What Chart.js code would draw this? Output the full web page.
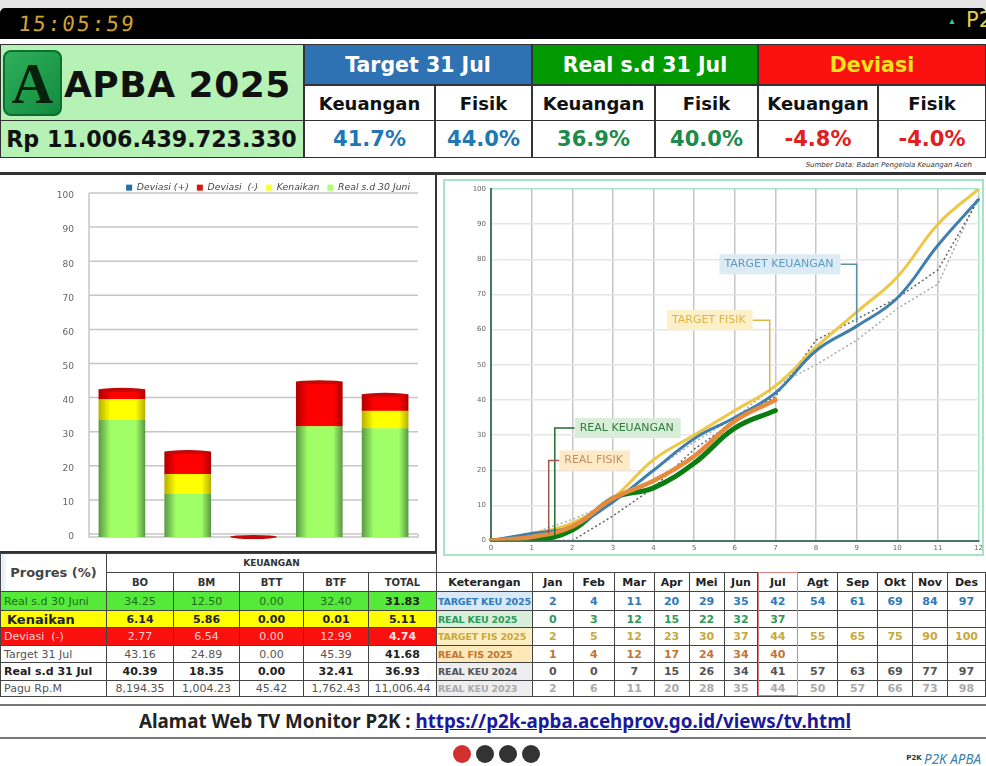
<!DOCTYPE html>
<html>
<head>
<meta charset="utf-8">
<title>Monitor P2K APBA 2025</title>
<script src="https://cdn.jsdelivr.net/npm/chart.js@4"></script>
<style>
    html, body { margin: 0; padding: 0; background: #fff; width: 986px; height: 766px; overflow: hidden; font-family: "DejaVu Sans", sans-serif; }
    .box { position: absolute; box-sizing: border-box; display: flex; align-items: center; justify-content: center; white-space: nowrap; }
    .hline { position: absolute; left: 0; width: 986px; background: #333; }
    table { position: absolute; border-collapse: collapse; table-layout: fixed; color: #333; }
    td { border: 1.5px solid #444; padding: 0; text-align: center; overflow: hidden; white-space: nowrap; font-size: 11px; }
    td.name { text-align: left; padding-left: 3px; }
    canvas { position: absolute; }
</style>
</head>
<body>
<div style="position:absolute;left:0;top:0;width:986px;height:9px;background:#e4e4e4"></div>
<div style="position:absolute;left:0;top:8px;width:986px;height:31px;background:#000;border-radius:5px 5px 0 0"></div>
<div class="box" style="left:19px;top:13px;width:116px;height:22px;color:#d0a22e;font:21px 'DejaVu Sans Mono',monospace;letter-spacing:2px;transform:skewX(-6deg)">15:05:59</div>
<div class="box" style="left:945px;top:13px;width:14px;height:14px;color:#3c9;font-size:10px;font-weight:bold">▴</div>
<div class="box" style="left:966px;top:8px;width:30px;height:24px;color:#e0d040;font-size:21px;justify-content:flex-start">P2</div>

<div id="header"></div>
<div class="box" style="left:600px;top:159px;width:372px;height:12px;justify-content:flex-end;font:italic 7px 'DejaVu Sans';color:#333">Sumber Data: Badan Pengelola Keuangan Aceh</div>

<div class="hline" style="top:172px;height:3px"></div>
<div style="position:absolute;left:435px;top:175px;width:2px;height:378px;background:#333"></div>
<div class="hline" style="top:551px;height:2px;width:436px"></div>

<canvas id="barChart" style="left:0;top:175px"></canvas>
<div style="position:absolute;left:443px;top:179px;width:541px;height:377px;border:2px solid #a6e4c6;box-sizing:border-box"></div>
<canvas id="lineChart" style="left:441px;top:178px"></canvas>

<table id="leftTable" style="left:0;top:553px"></table>
<table id="rightTable" style="left:436px;top:572px"></table>
<div style="position:absolute;left:758px;top:572px;width:40px;height:124px;border:1.5px solid #e08080;box-sizing:border-box"></div>

<div class="hline" style="top:704px;height:2px;background:#777"></div>
<div class="hline" style="top:737px;height:2px;background:#777"></div>
<div class="box" style="left:139px;top:708px;height:26px;font:bold 18.8px 'Noto Sans',sans-serif;color:#222">Alamat Web TV Monitor P2K :&nbsp;<span style="color:#1a1a9c;text-decoration:underline">https://p2k-apba.acehprov.go.id/views/tv.html</span></div>
<div style="position:absolute;left:453px;top:745px;width:18px;height:18px;border-radius:9px;background:#d32f2f"></div>
<div style="position:absolute;left:476px;top:745px;width:18px;height:18px;border-radius:9px;background:#333"></div>
<div style="position:absolute;left:499px;top:745px;width:18px;height:18px;border-radius:9px;background:#333"></div>
<div style="position:absolute;left:522px;top:745px;width:18px;height:18px;border-radius:9px;background:#333"></div>
<div class="box" style="left:906px;top:751px;width:16px;height:14px;font:bold 7px 'DejaVu Sans';color:#333">P2K</div>
<div class="box" style="left:924px;top:751px;height:16px;font:italic 13.5px 'Noto Sans',sans-serif;color:#3b83a8">P2K APBA</div>

<script>
// bar chart (Progres Keuangan)
var barCategories = ['BO', 'BM', 'BTT', 'BTF', 'TOTAL'];
var realJuni = [34.25, 12.50, 0.00, 32.40, 31.83];
var kenaikan = [6.14, 5.86, 0.00, 0.01, 5.11];
var deviasiMin = [2.77, 6.54, 0.00, 12.99, 4.74];
var deviasiPlus = [0, 0, 0, 0, 0];
var target31Jul = ['43.16', '24.89', '0.00', '45.39', '41.68'];
var real31Jul = ['40.39', '18.35', '0.00', '32.41', '36.93'];
var paguRpM = ['8,194.35', '1,004.23', '45.42', '1,762.43', '11,006.44'];

// line chart (monthly cumulative)
var monthNames = ['Jan', 'Feb', 'Mar', 'Apr', 'Mei', 'Jun', 'Jul', 'Agt', 'Sep', 'Okt', 'Nov', 'Des'];
var monthTicks = ['0', '1', '2', '3', '4', '5', '6', '7', '8', '9', '10', '11', '12'];
var targetKeu2025 = [2, 4, 11, 20, 29, 35, 42, 54, 61, 69, 84, 97];
var realKeu2025 = [0, 3, 12, 15, 22, 32, 37];
var targetFis2025 = [2, 5, 12, 23, 30, 37, 44, 55, 65, 75, 90, 100];
var realFis2025 = [1, 4, 12, 17, 24, 34, 40];
var realKeu2024 = [0, 0, 7, 15, 26, 34, 41, 57, 63, 69, 77, 97];
var realKeu2023 = [2, 6, 11, 20, 28, 35, 44, 50, 57, 66, 73, 98];

var FONT = '"DejaVu Sans", sans-serif';

// header panel
function addBox(left, top, width, height, text, style) {
    var el = document.createElement('div');
    el.className = 'box';
    el.style.cssText = 'left:' + left + 'px;top:' + top + 'px;width:' + width + 'px;height:' + height + 'px;' + style;
    el.textContent = text;
    document.getElementById('header').appendChild(el);
}

function buildHeader() {
    var line = 'border:1px solid #333;';
    addBox(0, 44, 304, 114, '', 'background:#b6f2b6;' + line);
    addBox(3, 50, 59, 66, 'A', 'background:linear-gradient(135deg,#2fb05c,#128a3e);border:2px solid #0c6f30;border-radius:8px;font:bold 58px "Liberation Serif",serif;color:#04220c');
    addBox(64, 62, 230, 44, 'APBA 2025', 'font:bold 36px ' + FONT + ';color:#111;letter-spacing:0.5px;justify-content:flex-start');
    addBox(0, 120, 304, 38, 'Rp 11.006.439.723.330', 'font:bold 22.2px ' + FONT + ';color:#111;border-top:1.5px solid #333;border-bottom:1.5px solid #333;border-right:1px solid #333');

    var big = 'font:bold 20.5px ' + FONT + ';' + line;
    addBox(304, 44, 228, 41, 'Target 31 Jul', big + 'background:#2f72b4;color:#fff');
    addBox(532, 44, 226, 41, 'Real s.d 31 Jul', big + 'background:#009900;color:#fff');
    addBox(758, 44, 228, 41, 'Deviasi', big + 'background:#fb1010;color:#f4e21a');

    var cols = [304, 435, 532, 655, 758, 878, 986];
    var heads = ['Keuangan', 'Fisik', 'Keuangan', 'Fisik', 'Keuangan', 'Fisik'];
    var vals = ['41.7%', '44.0%', '36.9%', '40.0%', '-4.8%', '-4.0%'];
    var colors = ['#1f78b4', '#1f78b4', '#1e8a4a', '#1e8a4a', '#e02020', '#e02020'];
    for (var i = 0; i < 6; i++) {
        addBox(cols[i], 85, cols[i + 1] - cols[i], 36, heads[i], 'font:bold 18px ' + FONT + ';color:#111;background:#fff;' + line);
        addBox(cols[i], 120, cols[i + 1] - cols[i], 38, vals[i], 'font:bold 21px ' + FONT + ';background:#fff;border:1px solid #333;border-bottom:1.5px solid #333;color:' + colors[i]);
    }
}

// tables
function colgroup(widths) {
    var html = '<colgroup>';
    for (var i = 0; i < widths.length; i++) {
        html += '<col style="width:' + widths[i] + 'px">';
    }
    return html + '</colgroup>';
}

function fixed(list) {
    var out = [];
    for (var i = 0; i < list.length; i++) {
        out.push(list[i].toFixed(2));
    }
    return out;
}

function leftRow(name, values, height, style, nameStyle, totalStyle) {
    var html = '<tr style="height:' + height + 'px;' + style + '">';
    html += '<td class="name" style="' + (nameStyle || '') + '">' + name + '</td>';
    for (var i = 0; i < values.length; i++) {
        var extra = (i === values.length - 1 && totalStyle) ? totalStyle : '';
        html += '<td style="' + extra + '">' + values[i] + '</td>';
    }
    return html + '</tr>';
}

function buildLeftTable() {
    var html = colgroup([106, 67, 66, 64, 65, 68]);
    var bold = 'font-weight:bold;color:#222';
    html += '<tr style="height:19px"><td rowspan="2" style="font-weight:bold;font-size:13px;color:#444;background:linear-gradient(90deg,#dde8f4 0,#fff 6px)">Progres (%)</td>';
    html += '<td colspan="5" style="font-weight:bold;font-size:9px">KEUANGAN</td></tr>';
    html += '<tr style="height:19px">';
    for (var i = 0; i < barCategories.length; i++) {
        html += '<td style="font-weight:bold;font-size:10px">' + barCategories[i] + '</td>';
    }
    html += '</tr>';
    html += leftRow('Real s.d 30 Juni', fixed(realJuni), 19, 'background:#55ea3a;color:#1e6a1e', '', bold);
    html += leftRow('Kenaikan', fixed(kenaikan), 17, 'background:#ffff00;color:#222;font-weight:bold', 'font-weight:bold;font-size:13px;padding-left:6px');
    html += leftRow('Deviasi &nbsp;(-)', fixed(deviasiMin), 18, 'background:#fb1010;color:#ffd0d0', '', 'font-weight:bold;color:#ffe4e4');
    html += leftRow('Target 31 Jul', target31Jul, 17, 'color:#555', '', bold);
    html += leftRow('Real s.d 31 Jul', real31Jul, 18, 'color:#222;font-weight:bold', 'font-weight:bold');
    html += leftRow('Pagu Rp.M', paguRpM, 16, 'color:#555');
    document.getElementById('leftTable').innerHTML = html;
}

function rightRow(name, values, height, color, bg) {
    var html = '<tr style="height:' + height + 'px">';
    html += '<td class="name" style="padding-left:1px;font-weight:bold;font-size:9.5px;letter-spacing:-0.2px;color:' + color + ';background:' + bg + '">' + name + '</td>';
    for (var i = 0; i < 12; i++) {
        var v = i < values.length ? values[i] : '';
        html += '<td style="font-weight:bold;font-size:11px;color:' + color + '">' + v + '</td>';
    }
    return html + '</tr>';
}

function buildRightTable() {
    var html = colgroup([96, 41, 41, 40, 35, 35, 34, 40, 40, 40, 35, 35, 38]);
    html += '<tr style="height:19px"><td style="font-weight:bold;color:#222">Keterangan</td>';
    for (var i = 0; i < monthNames.length; i++) {
        html += '<td style="font-weight:bold;color:#222">' + monthNames[i] + '</td>';
    }
    html += '</tr>';
    html += rightRow('TARGET KEU 2025', targetKeu2025, 19, '#2f7ab8', '#d8e8f6');
    html += rightRow('REAL KEU 2025', realKeu2025, 17, '#2e9a56', '#d8eeda');
    html += rightRow('TARGET FIS 2025', targetFis2025, 18, '#c8a83c', '#fcefc4');
    html += rightRow('REAL FIS 2025', realFis2025, 17, '#c47434', '#fde8b8');
    html += rightRow('REAL KEU 2024', realKeu2024, 18, '#555', '#eeeeee');
    html += rightRow('REAL KEU 2023', realKeu2023, 16, '#aaa', '#eeeeee');
    document.getElementById('rightTable').innerHTML = html;
}

// cylinder shading across each bar
function cylinder(dark, light) {
    return function(ctx) {
        var chart = ctx.chart;
        if (!chart.chartArea || ctx.type !== 'data') {
            return light;
        }
        var x = chart.scales.x.getPixelForValue(ctx.dataIndex);
        var grad = chart.ctx.createLinearGradient(x - 23, 0, x + 23, 0);
        grad.addColorStop(0, dark);
        grad.addColorStop(0.25, light);
        grad.addColorStop(0.8, light);
        grad.addColorStop(1, dark);
        return grad;
    };
}

// gridlines sit slightly above the bar base, like the 3D floor of the source chart
var barFloor = {
    id: 'barFloor',
    beforeInit: function(chart) {
        // keep the legend from pushing the plot down
        var fit = chart.legend.fit;
        chart.legend.fit = function() {
            fit.call(this);
            this.height = 21;
        };
    },
    beforeDatasetsDraw: function(chart) {
        var c = chart.ctx, y = chart.scales.y, area = chart.chartArea;
        c.save();
        c.strokeStyle = '#c6c6c6';
        c.lineWidth = 1.5;
        for (var v = 0; v <= 100; v += 10) {
            var py = y.getPixelForValue(v) - 3;
            c.beginPath();
            c.moveTo(area.left, py);
            c.lineTo(area.right, py);
            c.stroke();
        }
        c.beginPath();
        c.moveTo(area.left, y.getPixelForValue(100) - 3);
        c.lineTo(area.left, area.bottom);
        c.lineTo(area.right, area.bottom);
        c.lineTo(area.right, y.getPixelForValue(0) - 3);
        c.stroke();
        c.restore();
    },
    afterDatasetsDraw: function(chart) {
        var c = chart.ctx;
        var meta = chart.getDatasetMeta(2);
        c.save();
        for (var i = 0; i < meta.data.length; i++) {
            c.fillStyle = '#c40808';
            c.beginPath();
            c.ellipse(meta.data[i].x, meta.data[i].y, 23, 2, 0, 0, Math.PI * 2);
            c.fill();
        }
        c.restore();
    }
};

var legendColors = ['#a8ff70', '#ffff30', '#e01010', '#1f6fb0'];

function barLegendLabels(chart) {
    var items = Chart.defaults.plugins.legend.labels.generateLabels(chart);
    for (var i = 0; i < items.length; i++) {
        items[i].fillStyle = legendColors[items[i].datasetIndex];
        items[i].strokeStyle = legendColors[items[i].datasetIndex];
    }
    return items;
}

function drawBarChart() {
    var canvas = document.getElementById('barChart');
    canvas.width = 436;
    canvas.height = 375;
    new Chart(canvas, {
        type: 'bar',
        data: {
            labels: barCategories,
            datasets: [
                { label: 'Real s.d 30 Juni', data: realJuni, backgroundColor: cylinder('#5a9a46', '#a0ff66') },
                { label: 'Kenaikan', data: kenaikan, backgroundColor: cylinder('#b8b000', '#ffff00') },
                { label: 'Deviasi  (-)', data: deviasiMin, backgroundColor: cylinder('#b00000', '#ff0000') },
                { label: 'Deviasi (+)', data: deviasiPlus, backgroundColor: cylinder('#14507f', '#1f6fb0') }
            ]
        },
        options: {
            responsive: false,
            animation: false,
            layout: { padding: { right: 18, bottom: 5 } },
            datasets: { bar: { barThickness: 46 } },
            scales: {
                x: {
                    stacked: true,
                    grid: { display: false },
                    border: { display: false },
                    ticks: { display: false }
                },
                y: {
                    stacked: true,
                    min: 0,
                    max: 100,
                    afterFit: function(scale) { scale.width = 89; },
                    grid: { display: false },
                    border: { display: false },
                    ticks: { stepSize: 10, padding: 7, color: '#666', font: { family: FONT, size: 9 } }
                }
            },
            plugins: {
                tooltip: { enabled: false },
                legend: {
                    position: 'top',
                    align: 'end',
                    reverse: true,
                    labels: {
                        boxWidth: 6,
                        boxHeight: 6,
                        padding: 8,
                        color: '#444',
                        font: { family: FONT, size: 9.3, style: 'italic' },
                        generateLabels: barLegendLabels
                    }
                }
            }
        },
        plugins: [barFloor]
    });
}

// callouts: positions in chart units (month, percent)
var calloutText = ['TARGET KEUANGAN', 'TARGET FISIK', 'REAL KEUANGAN', 'REAL FISIK'];
var calloutLineX = [9.0, 6.86, 1.57, 1.42];
var calloutEndY = [62, 42, 0.5, 2];
var calloutElbowY = [78.6, 62.7, 32, 22.8];
var calloutEdgeX = [8.6, 6.44, 2.06, 1.68];
var calloutSide = [-1, -1, 1, 1];
var calloutInk = ['#5d9dbd', '#d8b648', '#2f7d3f', '#c68c62'];
var calloutFill = ['#dcebf4', '#fdf0c8', '#d8eed8', '#fdebc8'];
var calloutLine = ['#5a8fa8', '#d8b648', '#1f6f2f', '#a0584a'];

var callouts = {
    id: 'callouts',
    afterDatasetsDraw: function(chart) {
        var c = chart.ctx, sx = chart.scales.x, sy = chart.scales.y;
        c.save();
        c.font = '11px ' + FONT;
        c.textBaseline = 'middle';
        for (var i = 0; i < calloutText.length; i++) {
            var lx = sx.getPixelForValue(calloutLineX[i]);
            var ex = sx.getPixelForValue(calloutEdgeX[i]);
            var ey = sy.getPixelForValue(calloutElbowY[i]);
            c.strokeStyle = calloutLine[i];
            c.lineWidth = 1.5;
            c.beginPath();
            c.moveTo(ex, ey);
            c.lineTo(lx, ey);
            c.lineTo(lx, sy.getPixelForValue(calloutEndY[i]));
            c.stroke();
            var w = c.measureText(calloutText[i]).width + 12;
            var bx = calloutSide[i] > 0 ? ex : ex - w;
            c.fillStyle = calloutFill[i];
            c.fillRect(bx, ey - 10, w, 20);
            c.fillStyle = calloutInk[i];
            c.fillText(calloutText[i], bx + 5, ey);
        }
        c.restore();
    }
};

function lineSet(label, values, color, width, extra) {
    var set = {
        label: label,
        data: [0].concat(values),
        borderColor: color,
        borderWidth: width,
        pointRadius: 0,
        tension: 0.4,
        borderCapStyle: 'round',
        fill: false
    };
    for (var k in extra) {
        set[k] = extra[k];
    }
    return set;
}

function drawLineChart() {
    var canvas = document.getElementById('lineChart');
    canvas.width = 545;
    canvas.height = 377;
    new Chart(canvas, {
        type: 'line',
        data: {
            labels: monthTicks,
            datasets: [
                lineSet('REAL FIS 2025', realFis2025, '#e68a3c', 4.5),
                lineSet('TARGET KEU 2025', targetKeu2025, '#3f7fae', 3),
                lineSet('TARGET FIS 2025', targetFis2025, '#edc845', 3),
                lineSet('REAL KEU 2025', realKeu2025, '#0a7d10', 5),
                lineSet('REAL KEU 2024', realKeu2024, '#666666', 1.5, { tension: 0, borderCapStyle: 'butt', borderDash: [2, 2.5] }),
                lineSet('REAL KEU 2023', realKeu2023, '#aaaaaa', 1.5, { tension: 0, borderCapStyle: 'butt', borderDash: [2, 2.5] })
            ]
        },
        options: {
            responsive: false,
            animation: false,
            layout: { padding: { top: 11, right: 0, bottom: 0 } },
            scales: {
                x: {
                    offset: false,
                    grid: {
                        color: function(ctx) { return ctx.index === 12 ? '#a6e4c6' : '#c6c6c6'; },
                        lineWidth: 1.5,
                        drawTicks: false
                    },
                    border: { color: '#4a7565', width: 2 },
                    ticks: { maxRotation: 0, padding: 3, autoSkip: false, color: '#666', font: { family: FONT, size: 7 } }
                },
                y: {
                    min: 0,
                    max: 100,
                    afterFit: function(scale) { scale.width = 50; },
                    grid: {
                        color: function(ctx) { return ctx.tick.value === 100 ? '#a6e4c6' : '#e6e6e6'; },
                        lineWidth: 1.5,
                        drawTicks: false
                    },
                    border: { color: '#4a7565', width: 2 },
                    ticks: { stepSize: 10, padding: 5, color: '#666', font: { family: FONT, size: 7 } }
                }
            },
            plugins: {
                legend: { display: false },
                tooltip: { enabled: false }
            }
        },
        plugins: [callouts]
    });
}

buildHeader();
buildLeftTable();
buildRightTable();
drawBarChart();
drawLineChart();
</script>
</body>
</html>
